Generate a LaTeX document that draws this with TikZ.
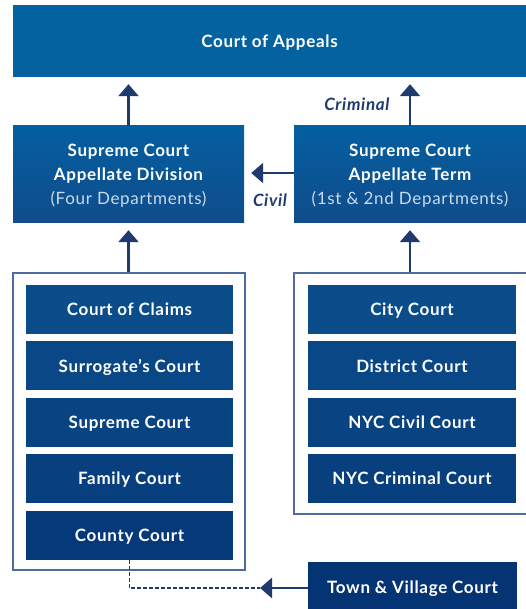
\documentclass[tikz,border=0pt]{standalone}
\usepackage{fontspec}
\setmainfont{Lato}[LetterSpace=4]
\usetikzlibrary{arrows.meta}
\usetikzlibrary{positioning}

\definecolor{navy}{HTML}{1E3A6E}
\definecolor{frameline}{HTML}{4F6C9C}
\definecolor{appealsblue}{HTML}{0462A1}
\definecolor{apptop}{HTML}{045FA0}
\definecolor{appbottom}{HTML}{104C8B}
\definecolor{subtext}{HTML}{C9DAEC}
\definecolor{tierA}{HTML}{0B4C8B}
\definecolor{tierB}{HTML}{0A4786}
\definecolor{tierC}{HTML}{094482}
\definecolor{tierD}{HTML}{083F7E}
\definecolor{tierE}{HTML}{06397A}
\definecolor{tierF}{HTML}{053474}

\begin{document}
\begin{tikzpicture}[x=1pt, y=-1pt,
    font=\fontsize{17}{24}\selectfont,
    court/.style={inner sep=0pt, align=center, text=white, font=\bfseries\fontsize{17}{24}\selectfont},
    single/.style={court, text height=12.4pt, text depth=0pt},
    appellate/.style={court, text depth=0pt, minimum width=231pt, minimum height=97pt, top color=apptop, bottom color=appbottom},
    lower/.style={single, minimum width=207pt, minimum height=49pt, fill=#1},
    group/.style={draw=frameline, line width=1.3pt, inner sep=0pt},
    up/.style={-{Triangle[width=20pt, length=12pt]}, draw=navy, line width=2.5pt, shorten >=7pt},
    route/.style={text=navy, font=\bfseries\itshape\fontsize{17}{24}\selectfont}]
  \useasboundingbox (0,0) rectangle (526,609);
  \clip (0,0) rectangle (526,609);

  % top of the ladder
  \node[single, fill=appealsblue, minimum width=513pt, minimum height=72pt] (appeals) at (269.5,41) {Court of Appeals};

  % appellate courts
  \node[appellate] (appdiv) at (128.5,174.5)
    {Supreme Court\\Appellate Division\\{\mdseries\color{subtext}(Four Departments)}};
  \node[appellate, minimum width=232pt] (appterm) at (410,174.5)
    {Supreme Court\\Appellate Term\\{\mdseries\color{subtext}(1st \& 2nd Departments)}};

  % trial courts, left column
  \node[group, minimum width=232pt, minimum height=297pt] (leftgrp) at (129,421.5) {};
  \node[lower=tierA] (claims) at (129.5,309.5) {Court of Claims};
  \node[lower=tierB, below=7pt of claims] (surrogate) {Surrogate’s Court};
  \node[lower=tierC, below=7pt of surrogate] (supreme) {Supreme Court};
  \node[lower=tierD, below=7pt of supreme] (family) {Family Court};
  \node[lower=tierE, below=7pt of family] (county) {County Court};

  % trial courts, right column
  \node[group, minimum width=236pt, minimum height=241pt] (rightgrp) at (412,393.5) {};
  \node[lower=tierA, minimum width=208pt] (city) at (412,309.5) {City Court};
  \node[lower=tierB, minimum width=208pt, below=7pt of city] (district) {District Court};
  \node[lower=tierC, minimum width=208pt, below=7pt of district] (nyccivil) {NYC Civil Court};
  \node[lower=tierD, minimum width=208pt, below=7pt of nyccivil] (nyccrim) {NYC Criminal Court};

  \node[lower=tierF, minimum width=209pt, minimum height=50pt] (townvillage) at (412.5,587) {Town \& Village Court};

  % appeals
  \draw[up] (appdiv) -- (appdiv |- appeals.south);
  \draw[up] (appterm) -- (appterm |- appeals.south);
  \draw[up] (leftgrp.north -| appdiv) -- (appdiv);
  \draw[up] (rightgrp.north -| appterm) -- (appterm);
  \draw[up] (appterm.west |- 0,173) -- (appdiv.east |- 0,173);
  \node[route, anchor=east] (criminal) at (393,104) {Criminal};
  \node[route] (civil) at (270,200) {Civil};

  \coordinate (joint) at (260,588);
  \draw[up, shorten >=0pt] (townvillage.west |- joint) -- (joint);
  \draw[navy, line width=1.3pt, dash pattern=on 4pt off 2pt] (county.south) |- (joint);
\end{tikzpicture}
\end{document}
